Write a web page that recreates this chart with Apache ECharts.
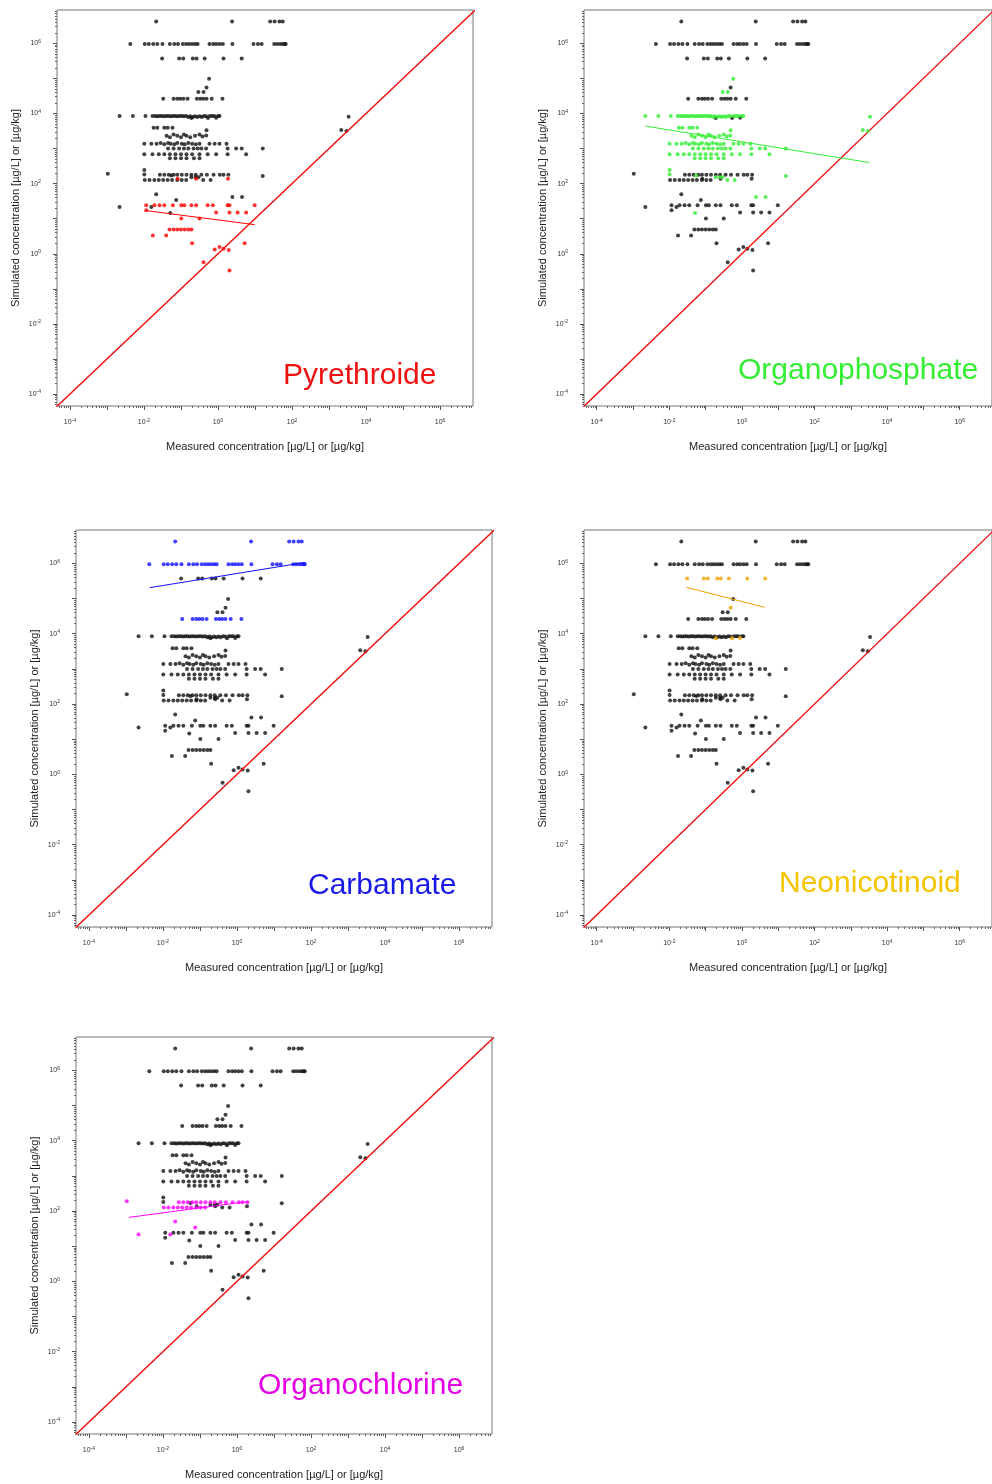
<!DOCTYPE html>
<html>
<head>
<meta charset="utf-8">
<script src="https://cdn.jsdelivr.net/npm/echarts@6/dist/echarts.min.js"></script>
<style>
  html, body { margin: 0; padding: 0; background: #ffffff; }
  #chart { width: 992px; height: 1484px; }
</style>
</head>
<body>
<div id="chart"></div>
<script>
// Measured vs simulated concentrations, [measured, simulated] in µg/L or µg/kg, one list per substance class.
const pyrethroide = [
  [8.13e-2,138],[0.257,138],[1.86,138],
  [1.15e-2,24],[1.91e-2,24],[2.63e-2,24],[3.55e-2,24],[6.03e-2,24],[0.102,24],[0.123,24],[0.191,24],[0.257,24],[0.525,24],[0.724,24],[1.82,24],[2.04,24],[9.77,24],
  [0.891,15.1],[2.04,15.1],[3.39,15.1],[5.75,15.1],[1.15e-2,17.4],
  [0.102,10.2],[0.316,10.2],
  [4.9e-2,4.9],[6.31e-2,4.9],[7.94e-2,4.9],[0.1,4.9],[0.126,4.9],[0.158,4.9],[0.191,4.9],
  [1.74e-2,3.31],[3.98e-2,3.31],
  [0.2,2.0],[5.25,2.0],
  [0.813,1.32],[1.1,1.55],[1.41,1.38],[1.95,1.29],
  [0.407,0.575],[2.04,0.331]
];
const organophosphate = [
  [0.575,9.8e4],[0.295,4.07e4],[0.407,4.07e4],
  [2.19e-3,8.5e3],[5.01e-3,8.5e3],[1.1e-2,8.5e3],[1.7e-2,8.5e3],
  [2.0e-2,8.5e3],[2.29e-2,8.3e3],[2.63e-2,8.5e3],[3.02e-2,8.5e3],[3.47e-2,8.3e3],[3.98e-2,8.5e3],[4.57e-2,8.5e3],[5.25e-2,8.3e3],
  [6.03e-2,8.5e3],[6.92e-2,8.5e3],[7.94e-2,8.3e3],[9.12e-2,8.5e3],[0.105,8.5e3],[0.12,8.3e3],[0.138,8.5e3],[0.158,7.9e3],
  [0.178,8.3e3],[0.209,7.9e3],[0.24,8.3e3],[0.275,7.9e3],[0.316,8.3e3],[0.363,7.9e3],[0.417,8.5e3],[0.479,8.3e3],
  [0.603,8.5e3],[0.692,8.5e3],[0.794,8.5e3],[1.0,8.5e3],[1.1,8.5e3],
  [1.82e-2,3.89e3],[2.29e-2,3.89e3],[3.55e-2,3.89e3],[4.37e-2,3.89e3],[5.89e-2,3.89e3],[0.49,3.31e3],
  [4.07e-2,2.3e3],[5.01e-2,2.1e3],[6.31e-2,2.5e3],[7.94e-2,2.3e3],[0.1,2.1e3],[0.12,2.5e3],[0.141,2.3e3],[0.178,2.1e3],[0.24,2.3e3],[0.316,2.5e3],[0.38,2.2e3],[0.479,2.34e3],
  [1.02e-2,1.38e3],[1.58e-2,1.38e3],[2.19e-2,1.38e3],[2.82e-2,1.45e3],[3.55e-2,1.32e3],[4.47e-2,1.45e3],[5.25e-2,1.38e3],[6.61e-2,1.32e3],[7.94e-2,1.45e3],
  [0.105,1.38e3],[0.126,1.32e3],[0.158,1.45e3],[0.2,1.38e3],[0.251,1.32e3],[0.316,1.38e3],[0.589,1.38e3],[0.813,1.38e3],[1.1,1.38e3],[1.7,1.38e3],
  [4.47e-2,1.0e3],[6.31e-2,1.0e3],[8.91e-2,1.0e3],[0.12,1.0e3],[0.158,1.0e3],[0.219,1.0e3],[0.282,1.0e3],[0.355,1.0e3],[0.479,1.0e3],
  [1.82,1.0e3],[3.09,1.0e3],[4.37,1.0e3],[16.2,1.0e3],
  [1.02e-2,692],[1.7e-2,692],[2.51e-2,692],[3.55e-2,692],[5.01e-2,692],[7.08e-2,692],[0.1,692],[0.141,692],[0.2,692],[0.316,692],[0.525,692],[0.891,692],[1.82,692],[5.75,692],
  [5.01e-2,525],[7.08e-2,525],[0.1,525],[0.141,525],[0.224,525],[0.316,525],
  [1.02e-2,245],[1.02e-2,182],[5.5e-2,170],[0.191,151],[0.251,151],[0.295,151],[16.2,166],[0.398,126],[0.631,126],
  [2.45,41.7],[4.47,41.7],[5.13e-2,14.5],
  [3390,8130],[2140,3390],[2950,3160]
];
const carbamate = [
  [2.14e-2,4.17e6],[2.40,4.17e6],[25.7,4.17e6],[33.9,4.17e6],[45.7,4.17e6],[56.2,4.17e6],
  [4.27e-3,9.5e5],[1.05e-2,9.5e5],[1.35e-2,9.5e5],[1.78e-2,9.5e5],[2.29e-2,9.5e5],[3.16e-2,9.5e5],[5.01e-2,9.5e5],[6.61e-2,9.5e5],
  [8.32e-2,9.5e5],[0.112,9.5e5],[0.138,9.5e5],[0.166,9.5e5],[0.2,9.5e5],[0.24,9.5e5],[0.282,9.5e5],[0.589,9.5e5],[0.741,9.5e5],
  [0.891,9.5e5],[1.10,9.5e5],[1.35,9.5e5],[2.45,9.5e5],[9.12,9.5e5],[12.0,9.5e5],[15.1,9.5e5],[33.1,9.5e5],[39.8,9.5e5],
  [47.9,9.5e5],[56.2,9.5e5],[63.1,9.5e5],[67.6,9.5e5],
  [3.31e-2,2.63e4],[6.31e-2,2.63e4],[7.94e-2,2.63e4],[9.55e-2,2.63e4],[0.117,2.63e4],[0.151,2.63e4],[0.269,2.63e4],[0.331,2.63e4],
  [0.398,2.63e4],[0.49,2.63e4],[0.676,2.63e4],[1.32,2.63e4]
];
const neonicotinoid = [
  [3.09e-2,3.72e5],[8.91e-2,3.72e5],[0.115,3.72e5],[0.209,3.72e5],[0.263,3.72e5],[0.437,3.72e5],[1.41,3.72e5],[4.37,3.72e5],
  [0.49,5.5e4],
  [0.191,7.41e3],[0.537,7.41e3],[0.891,7.6e3]
];
const organochlorine = [
  [1.05e-3,191],[2.19e-3,21.4],[2.14e-2,50.1],[7.41e-2,33.9],[1.58e-2,21.4],
  [2.69e-2,178],[3.55e-2,178],[4.68e-2,178],[6.31e-2,178],[7.94e-2,178],[0.105,178],[0.141,178],[0.191,178],
  [0.251,178],[0.355,178],[0.501,178],[0.759,178],[1.12,178],[1.41,178],[1.91,178],
  [1.05e-2,126],[1.41e-2,126],[1.91e-2,126],[2.51e-2,126],[3.31e-2,126],[4.37e-2,126],[5.75e-2,126],[7.94e-2,126],[0.105,126],[0.138,126]
];

// Fitted trend line of each class, end points [measured, simulated]
const fitPyrethroide = [[1.15e-2,17.0],[9.77,6.76]];
const fitOrganophosphate = [[2.19e-3,4370],[3240,398]];
const fitCarbamate = [[4.37e-3,2.04e5],[70.8,1.07e6]];
const fitNeonicotinoid = [[2.95e-2,2.09e5],[4.27,5.62e4]];
const fitOrganochlorine = [[1.2e-3,66.1],[1.91,186]];

// 1:1 reference line (measured = simulated)
const oneToOne = [1e-6, 1e8];

// Axis decades carrying a label, and the log ranges shown
const labelExponents = [-4, -2, 0, 2, 4, 6];
const X_LOG = [-4.35, 6.89];
const Y_LOG = [-4.34, 6.95];

const FONT = '"Liberation Sans", Arial, sans-serif';
const toLog = pts => pts.map(p => [Math.log10(p[0]), Math.log10(p[1])]);

// tick positions in exponent units
function tickSets(range) {
  const decade = [], minor = [];
  for (let k = -5; k <= 7; k++) {
    for (let m = 1; m <= 9; m++) {
      const v = k + Math.log10(m);
      if (v < range[0] || v > range[1]) continue;
      if (m === 1) decade.push(v); else minor.push(v);
    }
  }
  return { decade, minor };
}
const xTicks = tickSets(X_LOG);
const yTicks = tickSets(Y_LOG);

const panels = [
  { title: 'Pyrethroide', pts: pyrethroide, fit: fitPyrethroide, dot: '#ff0000', text: '#ee1111', left: 57, top: 10, h: 396, tx: 283, ty: 376 },
  { title: 'Organophosphate', pts: organophosphate, fit: fitOrganophosphate, dot: '#33ee33', text: '#33ee33', left: 584, top: 10, h: 396, tx: 738, ty: 371 },
  { title: 'Carbamate', pts: carbamate, fit: fitCarbamate, dot: '#1010ff', text: '#1a1ae6', left: 76, top: 530, h: 397, tx: 308, ty: 886 },
  { title: 'Neonicotinoid', pts: neonicotinoid, fit: fitNeonicotinoid, dot: '#f0a000', text: '#f5c400', left: 584, top: 530, h: 397, tx: 779, ty: 884 },
  { title: 'Organochlorine', pts: organochlorine, fit: fitOrganochlorine, dot: '#ff00ff', text: '#e600e6', left: 76, top: 1037, h: 397, tx: 258, ty: 1386 }
];

const expLabel = v => '{b|10}{s|' + Math.round(v) + '}';
const richLabel = {
  b: { fontSize: 7, color: '#333', fontFamily: FONT },
  s: { fontSize: 5, color: '#333', fontFamily: FONT, verticalAlign: 'top', padding: [0, 0, 4, 0] }
};

const grids = [], xAxes = [], yAxes = [], series = [], graphics = [];
const noLine = { show: false, onZero: false };

panels.forEach((p, i) => {
  grids.push({ left: p.left, top: p.top, width: 416, height: p.h, show: true, borderColor: '#777', borderWidth: 1, backgroundColor: 'transparent' });

  const xBase = { type: 'value', gridIndex: i, min: X_LOG[0], max: X_LOG[1], splitLine: { show: false }, axisLine: noLine, position: 'bottom' };
  const yBase = { type: 'value', gridIndex: i, min: Y_LOG[0], max: Y_LOG[1], splitLine: { show: false }, axisLine: noLine, position: 'left' };
  // labelled axes with decade ticks
  xAxes.push(Object.assign({}, xBase, {
    axisTick: { show: true, inside: false, length: 4, customValues: xTicks.decade, lineStyle: { color: '#555', width: 1 } },
    axisLabel: { customValues: labelExponents, formatter: expLabel, rich: richLabel, margin: 12 },
    name: 'Measured concentration [µg/L] or [µg/kg]', nameLocation: 'middle', nameGap: 35,
    nameTextStyle: { fontSize: 11, color: '#222', fontFamily: FONT }
  }));
  yAxes.push(Object.assign({}, yBase, {
    axisTick: { show: true, inside: false, length: 4, customValues: yTicks.decade, lineStyle: { color: '#555', width: 1 } },
    axisLabel: { customValues: labelExponents, formatter: expLabel, rich: richLabel, margin: 16 },
    name: 'Simulated concentration [µg/L] or [µg/kg]', nameLocation: 'middle', nameGap: 36,
    nameTextStyle: { fontSize: 11, color: '#222', fontFamily: FONT }
  }));
  // minor ticks at 2..9 of each decade
  xAxes.push(Object.assign({}, xBase, {
    axisLabel: { show: false },
    axisTick: { show: true, inside: false, length: 2, customValues: xTicks.minor, lineStyle: { color: '#666', width: 1 } }
  }));
  yAxes.push(Object.assign({}, yBase, {
    axisLabel: { show: false },
    axisTick: { show: true, inside: false, length: 2, customValues: yTicks.minor, lineStyle: { color: '#666', width: 1 } }
  }));

  const xi = 2 * i, yi = 2 * i;
  const others = [];
  panels.forEach((q, j) => { if (j !== i) others.push(...q.pts); });

  series.push({
    type: 'scatter', xAxisIndex: xi, yAxisIndex: yi, data: toLog(others),
    symbol: 'circle', symbolSize: 4, itemStyle: { color: '#111' }, silent: true, z: 2
  });
  series.push({
    type: 'line', xAxisIndex: xi, yAxisIndex: yi, data: toLog(oneToOne.map(v => [v, v])),
    showSymbol: false, clip: true, lineStyle: { color: '#ee1111', width: 1.4 }, silent: true, z: 3
  });
  series.push({
    type: 'scatter', xAxisIndex: xi, yAxisIndex: yi, data: toLog(p.pts),
    symbol: 'circle', symbolSize: 4, itemStyle: { color: p.dot }, silent: true, z: 4
  });
  series.push({
    type: 'line', xAxisIndex: xi, yAxisIndex: yi, data: toLog(p.fit),
    showSymbol: false, lineStyle: { color: p.dot, width: 1 }, silent: true, z: 5
  });

  graphics.push({
    type: 'text', x: p.tx, y: p.ty, z: 10,
    style: { text: p.title, fill: p.text, fontSize: 30, fontFamily: FONT, align: 'left', verticalAlign: 'middle' }
  });
});

const chart = echarts.init(document.getElementById('chart'), null, { renderer: 'canvas' });
chart.setOption({
  animation: false,
  backgroundColor: '#ffffff',
  grid: grids,
  xAxis: xAxes,
  yAxis: yAxes,
  series: series,
  graphic: graphics
});
</script>
</body>
</html>
